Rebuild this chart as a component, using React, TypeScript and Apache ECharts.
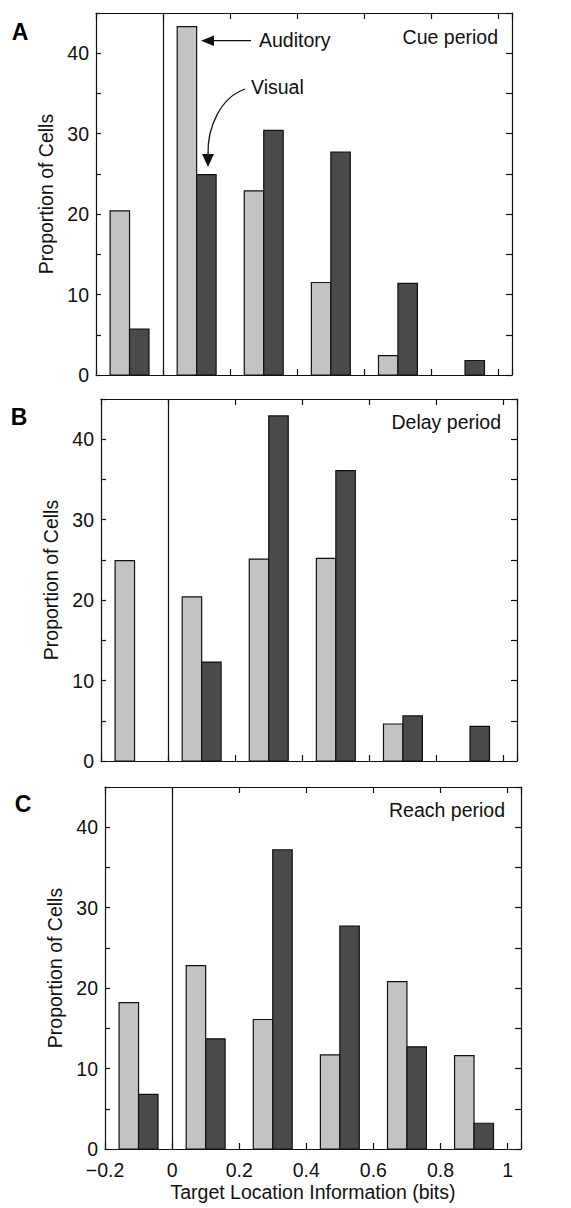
import React, { useEffect, useRef } from "react";
import * as echarts from "echarts";

const binCenters = [-0.1, 0.1, 0.3, 0.5, 0.7, 0.9];
const cueAuditory = [20.4, 43.3, 22.9, 11.5, 2.4, 0];
const cueVisual = [5.7, 24.9, 30.4, 27.7, 11.4, 1.8];
const delayAuditory = [24.9, 20.4, 25.1, 25.2, 4.6, 0];
const delayVisual = [0, 12.3, 42.9, 36.1, 5.6, 4.3];
const reachAuditory = [18.2, 22.8, 16.1, 11.7, 20.8, 11.6];
const reachVisual = [6.8, 13.7, 37.2, 27.7, 12.7, 3.2];
const panelLetters = ["A", "B", "C"];
const panelTitles = ["Cue period", "Delay period", "Reach period"];
const yTickLabels = [0, 10, 20, 30, 40];

const FONT = "Liberation Sans";
const BAR_W = 0.058;
const AUD_COLOR = "#c3c3c3";
const VIS_COLOR = "#4a4a4a";

const panels = [
  { aud: cueAuditory, vis: cueVisual, left: 96, top: 13 },
  { aud: delayAuditory, vis: delayVisual, left: 101, top: 399 },
  { aud: reachAuditory, vis: reachVisual, left: 105, top: 787 },
];

function xLabel(v: number): string {
  const k = v * 5;
  if (Math.abs(Math.round(k) - k) > 1e-6) return "";
  const r = Math.round(v * 10) / 10;
  if (r === 0) return "0";
  if (r < 0) return "\u2212" + String(-r);
  return String(r);
}

export default function App() {
  const ref = useRef<HTMLDivElement>(null);
  useEffect(() => {
    if (!ref.current) return;
    const chart = echarts.init(ref.current, undefined, { renderer: "svg" });
    const grid: any[] = [];
    const xAxis: any[] = [];
    const yAxis: any[] = [];
    const series: any[] = [];
    const line = { show: true, onZero: false, lineStyle: { color: "#111", width: 1.2 } };
    panels.forEach((p, i) => {
      grid.push({ left: p.left, top: p.top, width: 416, height: 362, show: false });
      const last = i === panels.length - 1;
      xAxis.push({
        type: "value", gridIndex: i, position: "bottom", min: -0.2, max: 1.04, interval: 0.2,
        axisLine: line,
        axisTick: { show: true, inside: true, length: 6, lineStyle: { color: "#111", width: 1.2 } },
        axisLabel: { show: last, formatter: xLabel, color: "#111", fontSize: 19.5, lineHeight: 16, fontFamily: FONT, margin: 13 },
        splitLine: { show: false },
        name: last ? "Target Location Information (bits)" : "",
        nameLocation: "middle", nameGap: 33,
        nameTextStyle: { color: "#111", fontSize: 19.5, fontFamily: FONT },
      });
      xAxis.push({
        type: "value", gridIndex: i, position: "top", min: -0.2, max: 1.04, interval: 0.2,
        axisLine: line,
        axisTick: { show: true, inside: true, length: 6, lineStyle: { color: "#111", width: 1.2 } },
        axisLabel: { show: false }, splitLine: { show: false },
      });
      yAxis.push({
        type: "value", gridIndex: i, position: "left", min: 0, max: 45, interval: 5,
        axisLine: line,
        axisTick: { show: true, inside: true, length: 5, lineStyle: { color: "#111", width: 1.2 } },
        axisLabel: {
          formatter: (v: number) => (yTickLabels.indexOf(v) >= 0 ? String(v) : ""),
          color: "#111", fontSize: 19.5, lineHeight: 16, fontFamily: FONT, margin: 7,
        },
        splitLine: { show: false },
        name: "Proportion of Cells", nameLocation: "middle", nameGap: 39,
        nameTextStyle: { color: "#111", fontSize: 19.5, fontFamily: FONT },
      });
      yAxis.push({
        type: "value", gridIndex: i, position: "right", min: 0, max: 45, interval: 5,
        axisLine: line,
        axisTick: { show: true, inside: true, length: 6, lineStyle: { color: "#111", width: 1.2 } },
        axisLabel: { show: false }, splitLine: { show: false },
      });
      const mk = (vals: number[], offset: number, color: string, name: string, withLine: boolean) => ({
        type: "custom",
        name,
        xAxisIndex: i * 2,
        yAxisIndex: i * 2,
        data: binCenters.map((c, j) => [c, vals[j]]),
        renderItem: (params: any, api: any) => {
          const c = api.value(0);
          const v = api.value(1);
          if (!v) return null;
          const p0 = api.coord([c + offset, v]);
          const p1 = api.coord([c + offset + BAR_W, 0]);
          return {
            type: "rect",
            shape: { x: p0[0], y: p0[1], width: p1[0] - p0[0], height: p1[1] - p0[1] },
            style: { fill: color, stroke: "#111", lineWidth: 1.2 },
          };
        },
        markLine: withLine
          ? {
              silent: true, symbol: "none", label: { show: false },
              lineStyle: { color: "#111", width: 1.2, type: "solid" },
              data: [{ xAxis: 0 }],
            }
          : undefined,
      });
      series.push(mk(p.aud, -BAR_W, AUD_COLOR, "Auditory", true));
      series.push(mk(p.vis, 0, VIS_COLOR, "Visual", false));
    });

    const graphic: any[] = [];
    const letterPos = [[20, 32], [19, 417], [23, 804]];
    panelLetters.forEach((l, i) => {
      graphic.push({
        type: "text", x: letterPos[i][0], y: letterPos[i][1],
        style: { text: l, fontSize: 23, fontWeight: 900, fontFamily: FONT, fill: "#000", align: "center", verticalAlign: "middle" },
      });
    });
    const titlePos = [[498, 37], [501, 422], [505, 810]];
    panelTitles.forEach((t, i) => {
      graphic.push({
        type: "text", x: titlePos[i][0], y: titlePos[i][1],
        style: { text: t, fontSize: 19.5, fontFamily: FONT, fill: "#111", align: "right", verticalAlign: "middle" },
      });
    });
    graphic.push(
      { type: "text", x: 259, y: 40, style: { text: "Auditory", fontSize: 19.5, fontFamily: FONT, fill: "#111", align: "left", verticalAlign: "middle" } },
      { type: "line", shape: { x1: 251, y1: 40.7, x2: 212, y2: 40.7 }, style: { stroke: "#111", lineWidth: 1.3 } },
      { type: "polygon", shape: { points: [[201, 40.7], [214, 35.5], [214, 46]] }, style: { fill: "#111" } },
      { type: "text", x: 251, y: 87, style: { text: "Visual", fontSize: 19.5, fontFamily: FONT, fill: "#111", align: "left", verticalAlign: "middle" } },
      { type: "bezierCurve", shape: { x1: 245, y1: 89, cpx1: 222, cpy1: 97, cpx2: 207, cpy2: 125, x2: 208, y2: 156 }, style: { stroke: "#111", lineWidth: 1.3, fill: "none" } },
      { type: "polygon", shape: { points: [[202, 154], [214, 154], [208, 167]] }, style: { fill: "#111" } },
    );

    chart.setOption({
      animation: false,
      backgroundColor: "#fff",
      grid, xAxis, yAxis, series, graphic,
    });
    return () => chart.dispose();
  }, []);
  return <div ref={ref} style={{ position: "fixed", left: 0, top: 0, width: 571, height: 1208 }} />;
}
